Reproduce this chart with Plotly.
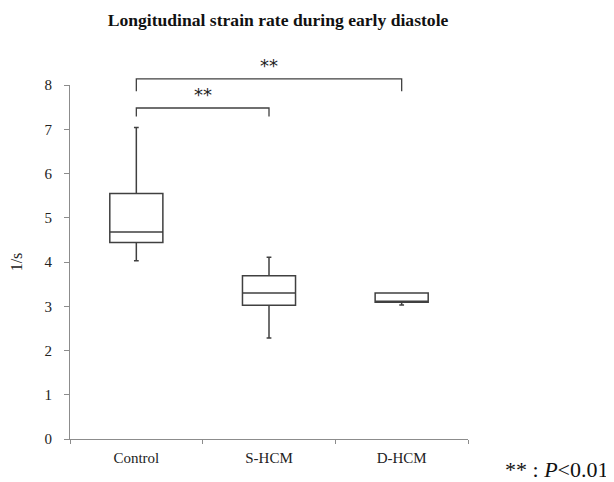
import plotly.graph_objects as go

categories = ["Control", "S-HCM", "D-HCM"]
lower_whisker = [4.03, 2.28, 3.03]
q1_vals = [4.44, 3.02, 3.09]
medians = [4.68, 3.30, 3.11]
q3_vals = [5.55, 3.69, 3.30]
upper_whisker = [7.04, 4.11, 3.30]

y_ticks = [0, 1, 2, 3, 4, 5, 6, 7, 8]
title_text = "Longitudinal strain rate during early diastole"
y_title = "1/s"
sig_label = "**"
# comparisons: (from index, to index, bracket top value, tick bottom value)
comparisons = [(0, 2, 8.14, 7.86), (0, 1, 7.48, 7.29)]

SERIF = "Liberation Serif, Times New Roman, serif"
LINE = "#404040"
AXIS = "#8c8c8c"

# the page has an 8px body margin; layout is placed relative to the figure
W, H = 614, 482
L, R, T, B = 62, 154, 77, 51
pw, ph = W - L - R, H - T - B

fig = go.Figure()
fig.add_trace(go.Box(
    x=categories,
    lowerfence=lower_whisker,
    q1=q1_vals,
    median=medians,
    q3=q3_vals,
    upperfence=upper_whisker,
    width=0.4,
    whiskerwidth=0.09,
    fillcolor="white",
    line=dict(color=LINE, width=1.5),
    boxpoints=False,
    showlegend=False,
))

ymax = y_ticks[-1]
for a, b, top, bot in comparisons:
    fig.add_shape(type="path", xref="x", yref="paper",
                  path=f"M {a},{bot/ymax} L {a},{top/ymax} L {b},{top/ymax} L {b},{bot/ymax}",
                  line=dict(color=LINE, width=1.3))
    fig.add_annotation(x=(a + b) / 2, y=top / ymax, xref="x", yref="paper",
                       text=sig_label, showarrow=False, yanchor="bottom", yshift=1,
                       font=dict(family="DejaVu Sans, sans-serif", size=18, color="#222"))

fig.add_annotation(x=(549 - L) / pw, y=-(461 - (H - B)) / ph, xref="paper", yref="paper",
                   text="** : <i>P</i><0.01", showarrow=False,
                   xanchor="center", yanchor="middle",
                   font=dict(family=SERIF, size=22, color="#111"))

fig.update_layout(
    width=W, height=H,
    margin=dict(l=L, r=R, t=T, b=B, autoexpand=False),
    paper_bgcolor="white", plot_bgcolor="white",
    title=dict(text=f"<b>{title_text}</b>", x=270/W, xanchor="center",
               y=1 - 12/H, yanchor="middle",
               font=dict(family=SERIF, size=17.6, color="#111")),
    font=dict(family=SERIF, size=15, color="#222"),
)
fig.update_xaxes(
    type="category", range=[-0.5, 2.5], automargin=False,
    showline=True, linecolor=AXIS, linewidth=1,
    ticks="outside", tickson="boundaries", ticklen=4, tickcolor=AXIS,
    ticklabelstandoff=5,
    showgrid=False, tickfont=dict(family=SERIF, size=15, color="#222"),
)
fig.update_yaxes(
    range=[0, ymax], tickvals=y_ticks, automargin=False,
    showline=True, linecolor=AXIS, linewidth=1,
    ticks="outside", ticklen=5, tickcolor=AXIS,
    ticklabelstandoff=9,
    showgrid=False, zeroline=False,
    tickfont=dict(family=SERIF, size=15, color="#222"),
    title=dict(text=y_title, font=dict(family=SERIF, size=16, color="#222"), standoff=20),
)

fig.write_html("out.html")
